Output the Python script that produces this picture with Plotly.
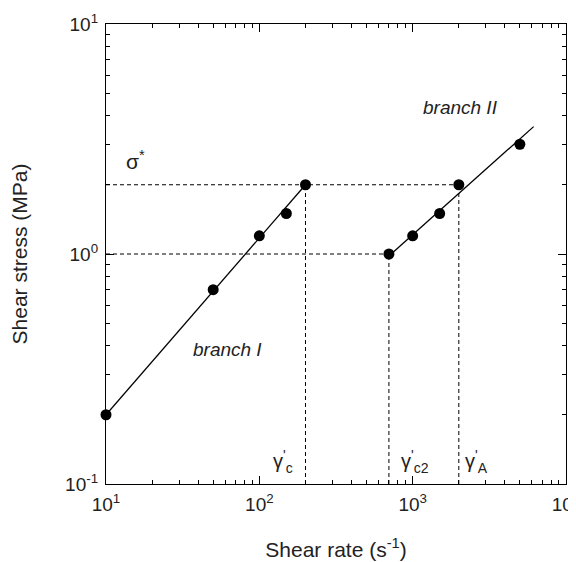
import plotly.graph_objects as go

# data
branch1_x = [10, 50, 100, 150, 200]
branch1_y = [0.2, 0.7, 1.2, 1.5, 2.0]
branch2_x = [700, 1000, 1500, 2000, 5000]
branch2_y = [1.0, 1.2, 1.5, 2.0, 3.0]
fit1_x = [10, 200]
fit1_y = [0.2, 2.0]
fit2_x = [700, 6150]
fit2_y = [0.98, 3.58]
sigma_star = 2.0
sigma_low = 1.0
gamma_c = 200
gamma_c2 = 700
gamma_A = 2000
x_tickvals = [10, 100, 1000, 10000]
x_ticktext = ["10<sup>1</sup>", "10<sup>2</sup>", "10<sup>3</sup>", "10<sup>4</sup>"]
y_tickvals = [0.1, 1, 10]
y_ticktext = ["10<sup>-1</sup>", "10<sup>0</sup>", "10<sup>1</sup>"]

FONT = "Liberation Sans, Arial, sans-serif"
TXT = "#222222"

fig = go.Figure()

dash = dict(color="black", width=1, dash="4px,3px")
# dashed guide lines
fig.add_trace(go.Scatter(x=[10, gamma_A], y=[sigma_star, sigma_star], mode="lines", line=dash, hoverinfo="skip"))
fig.add_trace(go.Scatter(x=[10, gamma_c2], y=[sigma_low, sigma_low], mode="lines", line=dash, hoverinfo="skip"))
fig.add_trace(go.Scatter(x=[gamma_c, gamma_c], y=[0.1, sigma_star], mode="lines", line=dash, hoverinfo="skip"))
fig.add_trace(go.Scatter(x=[gamma_c2, gamma_c2], y=[0.1, sigma_low], mode="lines", line=dash, hoverinfo="skip"))
fig.add_trace(go.Scatter(x=[gamma_A, gamma_A], y=[0.1, sigma_star], mode="lines", line=dash, hoverinfo="skip"))

# fit lines
fig.add_trace(go.Scatter(x=fit1_x, y=fit1_y, mode="lines", line=dict(color="black", width=1.3)))
fig.add_trace(go.Scatter(x=fit2_x, y=fit2_y, mode="lines", line=dict(color="black", width=1.3)))

# points
fig.add_trace(go.Scatter(x=branch1_x, y=branch1_y, mode="markers", marker=dict(color="black", size=11), cliponaxis=False))
fig.add_trace(go.Scatter(x=branch2_x, y=branch2_y, mode="markers", marker=dict(color="black", size=11), cliponaxis=False))

axis_common = dict(
    showgrid=False, zeroline=False, showline=True, linecolor="black", linewidth=1.3,
    mirror="ticks", ticks="inside", ticklen=8, tickwidth=1.3, tickcolor="black",
    tickfont=dict(family=FONT, size=19, color=TXT), ticklabelstandoff=3,
    minor=dict(ticks="inside", ticklen=4, tickwidth=1, tickcolor="black", dtick="D1", showgrid=False),
    automargin=False, ticklabeloverflow="allow",
)

fig.update_xaxes(type="log", range=[1, 4], tickmode="array", tickvals=x_tickvals, ticktext=x_ticktext,
                 title=dict(text="Shear rate (s<sup>-1</sup>)", font=dict(family=FONT, size=21, color=TXT), standoff=28),
                 **axis_common)
fig.update_yaxes(type="log", range=[-1, 1], tickmode="array", tickvals=y_tickvals, ticktext=y_ticktext,
                 title=dict(text="Shear stress (MPa)", font=dict(family=FONT, size=21, color=TXT), standoff=34),
                 **axis_common)

ann_font = dict(family=FONT, size=20, color=TXT)
annotations = [
    dict(x=1.191, y=0.409, text="σ<sup>*</sup>", font=dict(family=FONT, size=21, color=TXT)),
    dict(x=1.79, y=-0.417, text="<i>branch I</i>", font=dict(family=FONT, size=19, color=TXT)),
    dict(x=3.31, y=0.635, text="<i>branch II</i>", font=dict(family=FONT, size=19, color=TXT)),
    dict(x=2.153, y=-0.9, text="γ<sup>'</sup><sub>c</sub>", font=ann_font),
    dict(x=3.016, y=-0.9, text="γ<sup>'</sup><sub>c2</sub>", font=ann_font),
    dict(x=3.418, y=-0.9, text="γ<sup>'</sup><sub>A</sub>", font=ann_font),
]
for a in annotations:
    a.update(xref="x", yref="y", showarrow=False, xanchor="center", yanchor="middle")

# the page body has an 8px default margin, so the figure is sized/offset to compensate
fig.update_layout(
    width=568, height=554,
    margin=dict(l=98, r=10, t=16, b=78),
    paper_bgcolor="white", plot_bgcolor="white",
    annotations=annotations,
    showlegend=False,
)

fig.write_html("out.html")
